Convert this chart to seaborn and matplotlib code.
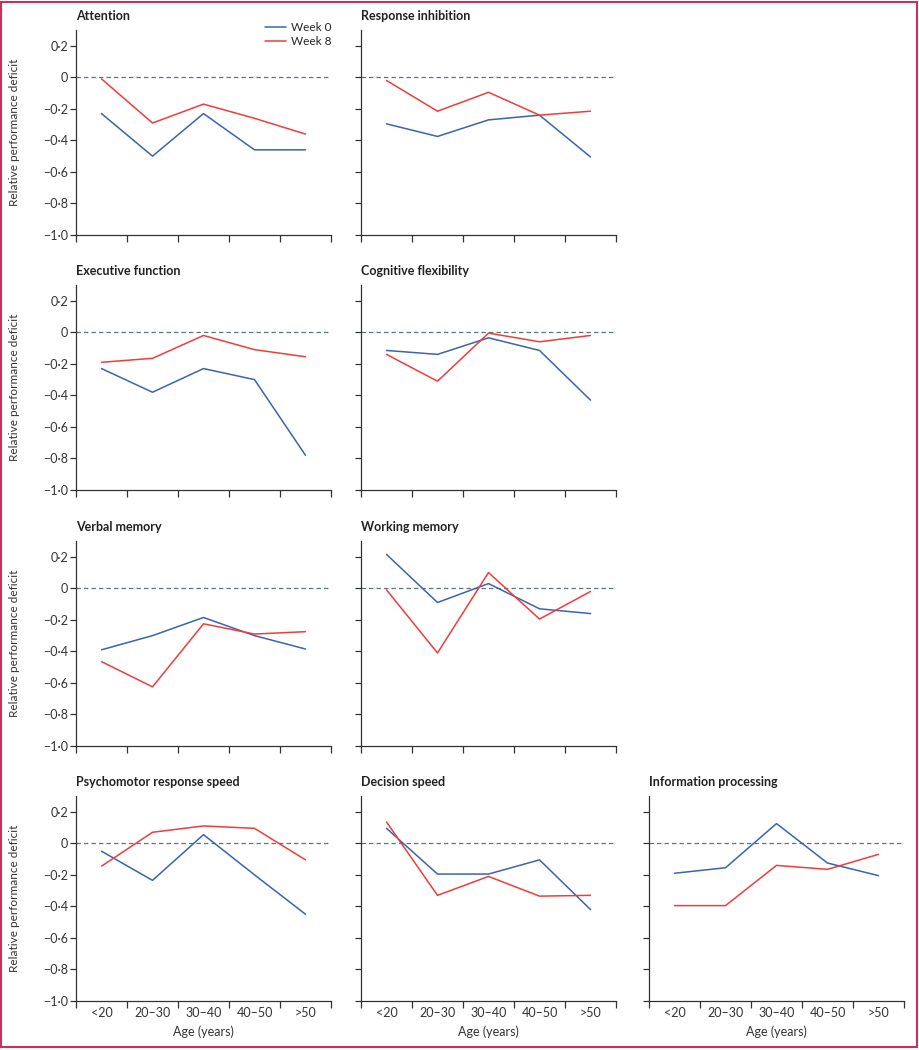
import numpy as np
import pandas as pd
import matplotlib
matplotlib.use("Agg")
import matplotlib.pyplot as plt
from matplotlib.ticker import FuncFormatter, FixedLocator
from matplotlib.patches import Rectangle
import seaborn as sns

# age groups on the x axis
ages = ["<20", "20–30", "30–40", "40–50", ">50"]

# relative performance deficit
attention_w0 = [-0.23, -0.50, -0.23, -0.46, -0.46]
attention_w8 = [-0.01, -0.29, -0.17, -0.26, -0.36]
inhibition_w0 = [-0.295, -0.375, -0.27, -0.24, -0.505]
inhibition_w8 = [-0.02, -0.215, -0.095, -0.24, -0.215]
executive_w0 = [-0.23, -0.38, -0.23, -0.30, -0.78]
executive_w8 = [-0.19, -0.165, -0.02, -0.11, -0.155]
flexibility_w0 = [-0.115, -0.14, -0.035, -0.115, -0.43]
flexibility_w8 = [-0.14, -0.31, -0.005, -0.06, -0.02]
verbal_w0 = [-0.39, -0.30, -0.185, -0.30, -0.385]
verbal_w8 = [-0.465, -0.625, -0.225, -0.29, -0.275]
working_w0 = [0.215, -0.09, 0.03, -0.13, -0.16]
working_w8 = [-0.01, -0.41, 0.10, -0.195, -0.02]
psychomotor_w0 = [-0.05, -0.235, 0.055, -0.20, -0.45]
psychomotor_w8 = [-0.145, 0.07, 0.11, 0.095, -0.105]
decision_w0 = [0.095, -0.195, -0.195, -0.105, -0.42]
decision_w8 = [0.135, -0.33, -0.21, -0.335, -0.33]
information_w0 = [-0.19, -0.155, 0.125, -0.125, -0.205]
information_w8 = [-0.395, -0.395, -0.14, -0.165, -0.07]

panels = [
    ("Attention", attention_w0, attention_w8, 0, 0),
    ("Response inhibition", inhibition_w0, inhibition_w8, 0, 1),
    ("Executive function", executive_w0, executive_w8, 1, 0),
    ("Cognitive flexibility", flexibility_w0, flexibility_w8, 1, 1),
    ("Verbal memory", verbal_w0, verbal_w8, 2, 0),
    ("Working memory", working_w0, working_w8, 2, 1),
    ("Psychomotor response speed", psychomotor_w0, psychomotor_w8, 3, 0),
    ("Decision speed", decision_w0, decision_w8, 3, 1),
    ("Information processing", information_w0, information_w8, 3, 2),
]

sns.set_style("ticks")
plt.rcParams["font.family"] = ["Lato", "DejaVu Sans"]
plt.rcParams["axes.edgecolor"] = "#333333"
plt.rcParams["xtick.color"] = "#333333"
plt.rcParams["ytick.color"] = "#333333"

palette = {"Week 0": "#3a64ad", "Week 8": "#f03c3c"}

W, H = 919, 1050
fig = plt.figure(figsize=(W / 100, H / 100), dpi=100)

col_x = [76, 361, 649]
row_top = [30, 285, 541, 796]
ax_w, ax_h = 255, 205


def fmt(v, pos):
    if abs(v) < 1e-9:
        return "0"
    s = f"{abs(v):.1f}".replace(".", "·")
    return ("−" if v < 0 else "") + s


for title, w0, w8, r, c in panels:
    ax = fig.add_axes([col_x[c] / W, 1 - (row_top[r] + ax_h) / H, ax_w / W, ax_h / H])
    df = pd.DataFrame({
        "age": ages * 2,
        "value": w0 + w8,
        "week": ["Week 0"] * 5 + ["Week 8"] * 5,
    })
    sns.lineplot(data=df, x="age", y="value", hue="week", palette=palette,
                 hue_order=["Week 0", "Week 8"], linewidth=1.1, ax=ax,
                 legend=(title == "Attention"))
    ax.axhline(0, color="#5a7382", linestyle=(0, (3.5, 2.5)), linewidth=0.9, zorder=0)
    ax.set_xlim(-0.5, 4.5)
    ax.set_ylim(-1.0, 0.3)
    sns.despine(ax=ax)
    ax.spines["left"].set_linewidth(0.9)
    ax.spines["bottom"].set_linewidth(0.9)

    ax.yaxis.set_major_locator(FixedLocator(np.arange(-1.0, 0.21, 0.2)))
    ax.yaxis.set_major_formatter(FuncFormatter(fmt))
    ax.tick_params(axis="y", length=4, width=0.9, labelsize=9, pad=1.5)

    ax.xaxis.set_major_locator(FixedLocator(np.arange(-0.5, 4.6, 1.0)))
    ax.xaxis.set_minor_locator(FixedLocator(np.arange(0, 5)))
    ax.tick_params(axis="x", which="major", length=5, width=0.9, labelbottom=False)
    ax.tick_params(axis="x", which="minor", length=0, labelsize=9, pad=4)
    if r == 3:
        ax.set_xticklabels(ages, minor=True)
        ax.set_xlabel("Age (years)", fontsize=9, color="#333333", labelpad=5)
    else:
        ax.set_xticklabels([], minor=True)
        ax.set_xlabel("")

    if c == 0:
        ax.set_ylabel("Relative performance deficit", fontsize=8.5, color="#333333")
        ax.yaxis.set_label_coords(-0.22, 0.5)
    else:
        ax.set_ylabel("")
        ax.set_yticklabels([])

    ax.text(0, 1.04, title, transform=ax.transAxes, ha="left", va="bottom",
            fontsize=9, fontweight="bold", color="#222222")

    if title == "Attention":
        ax.legend(loc="upper right", bbox_to_anchor=(1.02, 1.06), frameon=False,
                  fontsize=8.5, handlelength=1.8, handletextpad=0.4,
                  labelspacing=0.25, borderaxespad=0)

# pink frame around the figure
fig.patches.append(Rectangle((0.001, 0.003), 0.997, 0.995, transform=fig.transFigure,
                             fill=False, edgecolor="#c8325a", linewidth=1.5))

fig.savefig("out.png", dpi=100)
